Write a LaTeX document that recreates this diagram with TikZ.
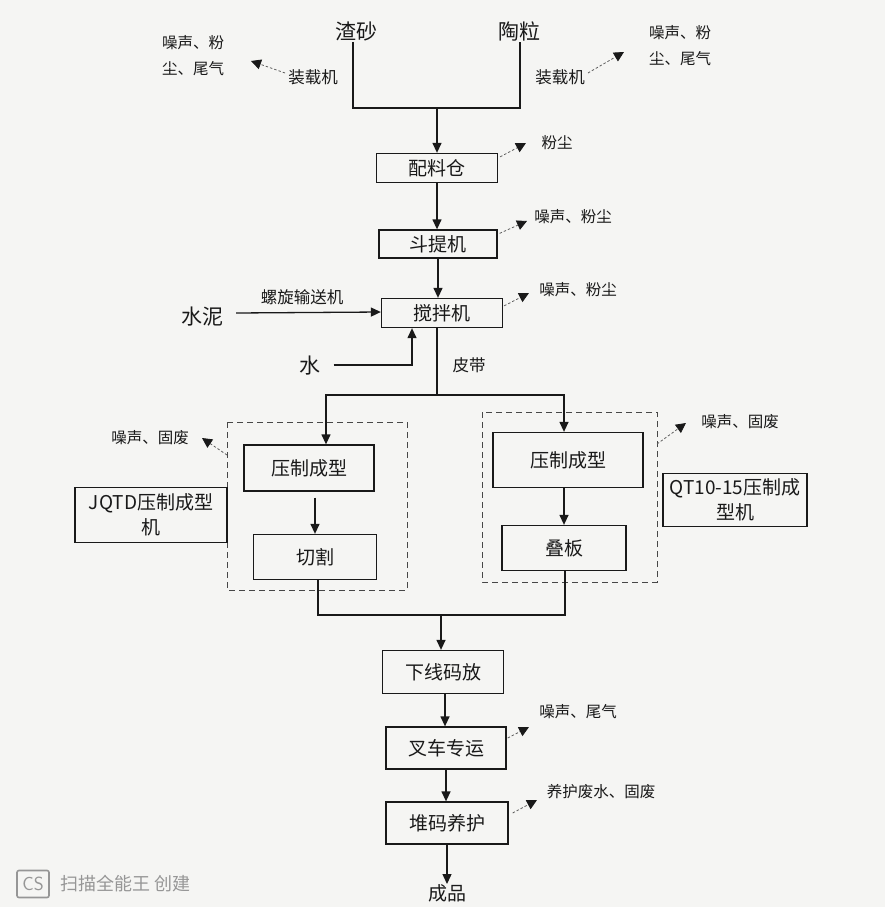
\documentclass[tikz,border=0pt]{standalone}
\usepackage{fontspec}
\setmainfont{Noto Sans CJK SC}
\usetikzlibrary{arrows.meta,calc}
\definecolor{paper}{RGB}{245,245,243}
\definecolor{ink}{RGB}{25,25,25}
\definecolor{wm}{RGB}{150,150,150}
\tikzset{
  px/.style={x=1pt,y=-1pt},
  procbox/.style={draw=ink, line width=1.3pt, inner sep=0pt, font=\fontsize{19}{22}\selectfont, text=ink},
  bigtext/.style={inner sep=1pt, font=\fontsize{21}{24}\selectfont, text=ink},
  emtext/.style={inner sep=1pt, font=\fontsize{15.5}{26}\selectfont, text=ink, align=center},
  lbl/.style={inner sep=1pt, font=\fontsize{16.5}{20}\selectfont, text=ink},
  flow/.style={draw=ink, line width=1.3pt},
  arr/.style={flow, -{Triangle[length=10pt,width=9pt]}},
  emis/.style={draw=ink!70, line width=0.8pt, dash pattern=on 2.5pt off 2pt, -{Triangle[length=10pt,width=10pt,color=ink]}},
  grp/.style={draw=ink!80, line width=1pt, dash pattern=on 6pt off 4pt},
}
\begin{document}
\begin{tikzpicture}[px]
\fill[paper] (0,0) rectangle (885,907);
\useasboundingbox (0,0) rectangle (885,907);

% raw materials
\node[bigtext] (zs) at (356,31) {渣砂};
\node[bigtext] (tl) at (519,31) {陶粒};
\coordinate (j1) at (437,108);
\draw[flow] ([xshift=-3pt]zs.south) |- (j1) -| ([xshift=1pt]tl.south);

% loaders
\node[lbl] (zl) at (313,77) {装载机};
\node[emtext] (el) at (193,56) {噪声、粉\\尘、尾气};
\coordinate (elt) at (251,61);
\draw[emis] ([xshift=-2pt,yshift=4pt]zl.west) -- (elt);
\node[lbl] (zr) at (560,77) {装载机};
\node[emtext] (er) at (680,46) {噪声、粉\\尘、尾气};
\coordinate (ert) at (624,52);
\draw[emis] ([xshift=2pt,yshift=4pt]zr.east) -- (ert);

% main chain
\node[procbox, minimum width=121pt, minimum height=29pt] (pl) at (437,168) {配料仓};
\node[procbox, minimum width=118pt, minimum height=28pt] (dt) at (438,244) {斗提机};
\node[procbox, minimum width=121pt, minimum height=29pt] (jb) at (442,313) {搅拌机};
\draw[arr] (j1) -- (j1 |- pl.north);
\draw[arr] (pl.south) -- (pl.south |- dt.north);
\draw[arr] (dt.south) -- (dt.south |- jb.north);

\node[emtext] (e1) at (557,143) {粉尘};
\coordinate (e1t) at (526,143);
\draw[emis] ([xshift=2pt,yshift=-4pt]pl.north east) -- (e1t);
\node[emtext] (e2) at (573,217) {噪声、粉尘};
\coordinate (e2t) at (527,221);
\draw[emis] ([xshift=2pt,yshift=-4pt]dt.north east) -- (e2t);
\node[emtext] (e3) at (578,290) {噪声、粉尘};
\coordinate (e3t) at (529,293);
\draw[emis] ([xshift=1pt,yshift=-8pt]jb.north east) -- (e3t);

% cement and water
\node[bigtext] (sn) at (202,317) {水泥};
\node[lbl] (lx) at (302,297) {螺旋输送机};
\draw[arr] ([xshift=12pt,yshift=4pt]sn.east) -- ([yshift=1pt]jb.west);
\node[bigtext] (sw) at (310,366) {水};
\draw[arr] ([xshift=12pt,yshift=1pt]sw.east) -| ([xshift=-30pt]jb.south);

% belt and split
\node[lbl] (pd) at (469,365) {皮带};
\coordinate (sp) at (437,395);
\draw[flow] ([xshift=-5pt]jb.south) -- (sp);

% left group
\draw[grp] (227,422) rectangle (407,590);
\node[procbox, minimum width=130pt, minimum height=46pt] (ly1) at (309,468) {压制成型};
\node[procbox, minimum width=123pt, minimum height=45pt] (qg) at (315,557) {切割};
\draw[arr] (sp) -| ([xshift=17pt]ly1.north);
\draw[arr] ([yshift=-6pt]ly1.south -| qg.north) -- (qg.north);
\node[procbox, minimum width=152pt, minimum height=55pt, align=center, font=\fontsize{19}{25}\selectfont] (jq) at (151,515) {JQTD压制成型\\机};
\node[emtext] (e4) at (150,438) {噪声、固废};
\coordinate (e4t) at (202,438);
\coordinate (g1) at (227,455);
\draw[emis] (g1) -- (e4t);

% right group
\draw[grp] (482,412) rectangle (657,582);
\node[procbox, minimum width=150pt, minimum height=55pt] (ry1) at (568,460) {压制成型};
\node[procbox, minimum width=124pt, minimum height=45pt] (db) at (564,548) {叠板};
\draw[arr] (sp) -| ([xshift=-4pt]ry1.north);
\draw[arr] (ry1.south -| db.north) -- (db.north);
\node[procbox, minimum width=144pt, minimum height=53pt, align=center, font=\fontsize{19}{25}\selectfont] (qt) at (735,500) {QT10-15压制成\\型机};
\node[emtext] (e5) at (740,422) {噪声、固废};
\coordinate (e5t) at (686,423);
\coordinate (g2) at (657,444);
\draw[emis] (g2) -- (e5t);

% merge
\coordinate (mg) at (441,615);
\node[procbox, minimum width=121pt, minimum height=43pt] (xx) at (443,672) {下线码放};
\draw[flow] ([xshift=3pt]qg.south) |- (mg) -| ([xshift=1pt]db.south);
\draw[arr] (mg) -- (mg |- xx.north);

\node[procbox, minimum width=120pt, minimum height=42pt] (cc) at (446,748) {叉车专运};
\node[procbox, minimum width=122pt, minimum height=42pt] (dm) at (447,823) {堆码养护};
\draw[arr] ([xshift=2pt]xx.south) -- ([xshift=-1pt]cc.north);
\draw[arr] (cc.south) -- (cc.south |- dm.north);
\node[emtext] (e6) at (578,712) {噪声、尾气};
\coordinate (e6t) at (529,727);
\draw[emis] ([xshift=1pt,yshift=10pt]cc.east) -- (e6t);
\node[emtext] (e7) at (601,792) {养护废水、固废};
\coordinate (e7t) at (537,800);
\draw[emis] ([xshift=4pt,yshift=10pt]dm.east) -- (e7t);

\node[bigtext, font=\fontsize{19}{22}\selectfont] (cp) at (447,893) {成品};
\draw[arr] (dm.south) -- ([yshift=-1pt]cp.north);

% scanner watermark
\node[draw=wm, line width=1.6pt, rounded corners=2pt, text=wm, inner sep=2pt, minimum width=32pt, minimum height=27pt, font=\sffamily\fontsize{19}{20}\selectfont] (cs) at (33,884) {CS};
\node[anchor=west, text=wm, inner sep=0pt, font=\fontsize{18}{20}\selectfont] (wt) at (60,884) {扫描全能王 创建};
\end{tikzpicture}
\end{document}
